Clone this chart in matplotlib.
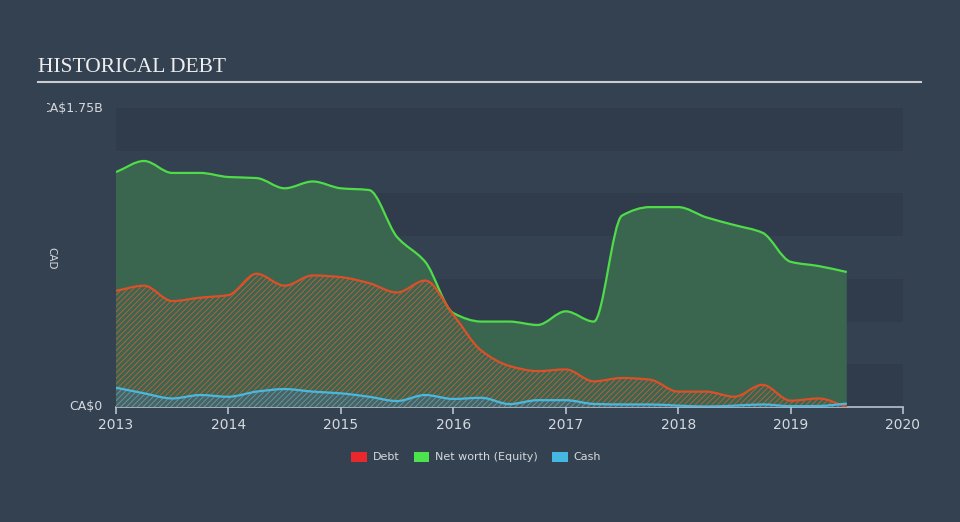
import numpy as np
import matplotlib
matplotlib.use('Agg')
from matplotlib import pyplot as plt
from matplotlib.path import Path
from matplotlib.patches import PathPatch, Patch
from matplotlib.transforms import Bbox

# Данные (млрд CAD), поквартально 2013.0 .. 2019.5
dates = [2013.0 + 0.25 * i for i in range(27)]

equity = [1.375, 1.44, 1.37, 1.37, 1.346, 1.34, 1.28, 1.32, 1.28, 1.27,
          0.995, 0.85, 0.55, 0.50, 0.50, 0.48, 0.56, 0.50, 1.12, 1.17,
          1.17, 1.11, 1.065, 1.02, 0.85, 0.825, 0.79]

debt = [0.68, 0.71, 0.62, 0.64, 0.655, 0.78, 0.71, 0.77, 0.76, 0.725,
        0.67, 0.74, 0.54, 0.33, 0.24, 0.21, 0.22, 0.15, 0.17, 0.16,
        0.09, 0.09, 0.06, 0.13, 0.037, 0.05, 0.0]

cash = [0.113, 0.08, 0.05, 0.07, 0.06, 0.09, 0.105, 0.09, 0.08, 0.06,
        0.035, 0.07, 0.047, 0.054, 0.017, 0.04, 0.04, 0.018, 0.015, 0.015,
        0.008, 0.003, 0.008, 0.015, 0.005, 0.006, 0.02]

years = [2013, 2014, 2015, 2016, 2017, 2018, 2019, 2020]

BG = '#334151'
BAND_DARK = '#303c4c'
TXT = '#d6d9de'


def monotoneSlopes(x, y):
    x = np.asarray(x, float)
    y = np.asarray(y, float)
    h = np.diff(x)
    d = np.diff(y) / h
    m = np.zeros_like(y)
    m[0] = d[0]
    m[-1] = d[-1]
    for i in range(1, len(y) - 1):
        if d[i - 1] * d[i] <= 0:
            m[i] = 0
        else:
            m[i] = 3 * (h[i - 1] + h[i]) / ((2 * h[i] + h[i - 1]) / d[i - 1] + (h[i] + 2 * h[i - 1]) / d[i])
    return m


def curvePath(x, y):
    m = monotoneSlopes(x, y)
    verts = [(x[0], y[0])]
    codes = [Path.MOVETO]
    for i in range(len(x) - 1):
        h = x[i + 1] - x[i]
        verts += [(x[i] + h / 3, y[i] + m[i] * h / 3),
                  (x[i + 1] - h / 3, y[i + 1] - m[i + 1] * h / 3),
                  (x[i + 1], y[i + 1])]
        codes += [Path.CURVE4] * 3
    return verts, codes


def areaPath(x, y):
    verts, codes = curvePath(x, y)
    verts = verts + [(x[-1], 0), (x[0], 0), (x[0], y[0])]
    codes = codes + [Path.LINETO, Path.LINETO, Path.CLOSEPOLY]
    return Path(verts, codes)


plt.rcParams['hatch.linewidth'] = 0.7

fig = plt.figure(figsize=(9.6, 5.22), dpi=100, facecolor=BG)
ax = fig.add_axes([116 / 960, 115 / 522, 787 / 960, 299 / 522])
ax.set_facecolor(BG)

# полосы фона
for i in range(7):
    if i % 2 == 0:
        ax.axhspan(1.75 - 0.25 * (i + 1), 1.75 - 0.25 * i, color=BAND_DARK, lw=0, zorder=0)

# чистые активы
ax.add_patch(PathPatch(areaPath(dates, equity), facecolor='#3a654f', edgecolor='none', zorder=1))
# долг (штриховка)
ax.add_patch(PathPatch(areaPath(dates, debt), facecolor='none', edgecolor='#b5603e', lw=0, hatch='//////', zorder=2))
# кэш
ax.add_patch(PathPatch(areaPath(dates, cash), facecolor='#4a6262', edgecolor='#5a98a8', lw=0, hatch='//////', zorder=3))

v, c = curvePath(dates, equity)
ax.add_patch(PathPatch(Path(v, c), fill=False, edgecolor='#4fdc48', lw=1.6, zorder=4))
v, c = curvePath(dates, debt)
ax.add_patch(PathPatch(Path(v, c), fill=False, edgecolor='#dc5028', lw=1.6, zorder=5))
v, c = curvePath(dates, cash)
ax.add_patch(PathPatch(Path(v, c), fill=False, edgecolor='#4ab8de', lw=1.6, zorder=6))

ax.set_xlim(2013, 2020)
ax.set_ylim(0, 1.75)

for s in ['top', 'right', 'left']:
    ax.spines[s].set_visible(False)
ax.spines['bottom'].set_color('#b9c1cc')
ax.spines['bottom'].set_linewidth(1.2)
ax.set_xticks(years)
ax.set_xticklabels([str(y) for y in years])
ax.tick_params(axis='x', colors='#b9c1cc', labelcolor=TXT, labelsize=10, length=5, width=1.2, pad=3)
ax.set_yticks([])

# заголовок
fig.text(38 / 960, 1 - 67 / 522, 'HISTORICAL DEBT', family='Liberation Serif', fontsize=15.5,
         color='#eeeeee', va='center', ha='left')
fig.add_artist(plt.Line2D([38 / 960, 921 / 960], [1 - 82 / 522, 1 - 82 / 522], color='#c9cdd2', lw=1.5))

# подписи оси Y
t = fig.text(103 / 960, 1 - 108 / 522, 'CA$1.75B', fontsize=9, color=TXT, ha='right', va='center')
t.set_clip_box(Bbox.from_extents(47, 0, 960, 522))
t.set_clip_on(True)
fig.text(103 / 960, 1 - 407 / 522, 'CA$0', fontsize=9, color=TXT, ha='right', va='center')
fig.text(51 / 960, 1 - 258 / 522, 'CAD', fontsize=7.5, color=TXT, ha='center', va='center', rotation=-90)

handles = [Patch(facecolor='#e8282b', label='Debt'),
           Patch(facecolor='#4ce34c', label='Net worth (Equity)'),
           Patch(facecolor='#45b7e0', label='Cash')]
fig.legend(handles=handles, loc='center', bbox_to_anchor=(476 / 960, 1 - 457 / 522), ncol=3,
           frameon=False, fontsize=8, labelcolor=TXT, handlelength=1.4, handleheight=1.0,
           handletextpad=0.5, columnspacing=1.3)

fig.savefig('out.png', dpi=100, facecolor=BG)
